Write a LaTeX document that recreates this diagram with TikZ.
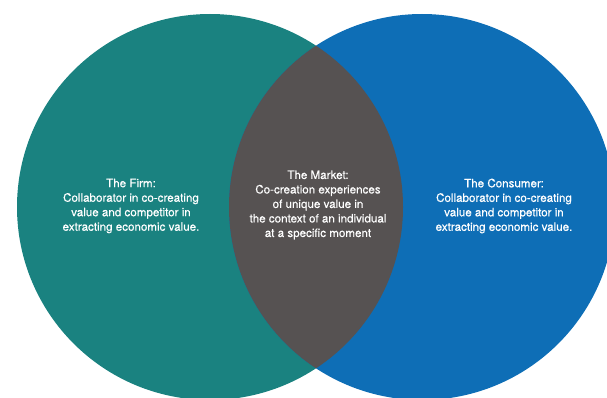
\documentclass[tikz,border=0pt]{standalone}
\usepackage{fontspec}
\setmainfont[FakeBold=0.4]{TeX Gyre Heros}
\definecolor{firmteal}{HTML}{1A8280}
\definecolor{consumerblue}{HTML}{0E6EB6}
\definecolor{marketgray}{HTML}{565252}

\begin{document}
\begin{tikzpicture}[x=1pt,y=1pt,
  venntext/.style={text=white, align=center, font=\fontsize{11.6}{14.5}\selectfont}]
\useasboundingbox (0,0) rectangle (607,397);
\clip (0,0) rectangle (607,397);
\coordinate (F) at (210,190);
\coordinate (C) at (422,190);

% the two circles and their overlap
\fill[firmteal] (F) circle (193pt);
\fill[consumerblue] (C) circle (193pt);
\begin{scope}
\clip (F) circle (193pt);
\fill[marketgray] (C) circle (193pt);
\end{scope}

\node[venntext] (firm) at (131,191) {The Firm:\\Collaborator in co-creating\\value and competitor in\\extracting economic value.};
\node[venntext] (market) at (318,192) {The Market:\\Co-creation experiences\\of unique value in\\the context of an individual\\at a specific moment};
\node[venntext] (consumer) at (504,191) {The Consumer:\\Collaborator in co-creating\\value and competitor in\\extracting economic value.};
\end{tikzpicture}
\end{document}
